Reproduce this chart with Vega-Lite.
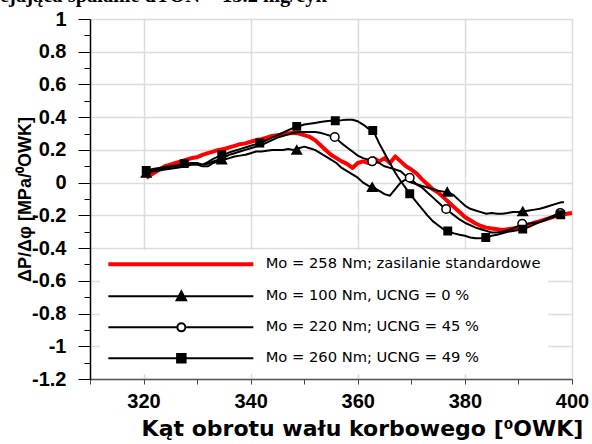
{
  "$schema": "https://vega.github.io/schema/vega-lite/v6.json",
  "autosize": {"type": "none"},
  "padding": {"left": 90, "top": 19, "right": 20, "bottom": 65},
  "width": 482,
  "height": 360,
  "background": "white",
  "title": {"text": "ejająca spalanie dTON = 13.2 mg/cyk", "anchor": "start", "frame": "group", "dx": -90, "dy": 16, "offset": 3, "baseline": "alphabetic", "font": "Liberation Serif", "fontSize": 20.5, "fontWeight": "bold", "color": "black"},
  "config": {
    "view": {"stroke": null},
    "axis": {"labelFont": "Liberation Sans", "labelFontSize": 20, "labelFontWeight": "bold", "labelColor": "black", "titleFont": "Liberation Sans", "titleFontWeight": "bold", "titleColor": "black", "gridColor": "#dcdcdc", "gridWidth": 1.5, "labelFlush": false, "labelOverlap": false}
  },
  "datasets": {
    "curves": [
      {"seria":"258","kat":320.5,"dp":0.03},{"seria":"258","kat":321,"dp":0.04},{"seria":"258","kat":322,"dp":0.06},{"seria":"258","kat":323,"dp":0.08},{"seria":"258","kat":324,"dp":0.10},{"seria":"258","kat":325,"dp":0.11},{"seria":"258","kat":326,"dp":0.12},{"seria":"258","kat":327,"dp":0.13},{"seria":"258","kat":328,"dp":0.14},{"seria":"258","kat":329,"dp":0.15},{"seria":"258","kat":330,"dp":0.155},{"seria":"258","kat":331,"dp":0.17},{"seria":"258","kat":332,"dp":0.18},{"seria":"258","kat":333,"dp":0.19},{"seria":"258","kat":334,"dp":0.20},{"seria":"258","kat":335,"dp":0.205},{"seria":"258","kat":336,"dp":0.215},{"seria":"258","kat":337,"dp":0.225},{"seria":"258","kat":338,"dp":0.235},{"seria":"258","kat":339,"dp":0.24},{"seria":"258","kat":340,"dp":0.25},{"seria":"258","kat":341,"dp":0.26},{"seria":"258","kat":342,"dp":0.265},{"seria":"258","kat":343,"dp":0.275},{"seria":"258","kat":344,"dp":0.285},{"seria":"258","kat":345,"dp":0.29},{"seria":"258","kat":346,"dp":0.295},{"seria":"258","kat":347,"dp":0.30},{"seria":"258","kat":348,"dp":0.305},{"seria":"258","kat":349,"dp":0.30},{"seria":"258","kat":350,"dp":0.29},{"seria":"258","kat":351,"dp":0.28},{"seria":"258","kat":352,"dp":0.26},{"seria":"258","kat":353,"dp":0.23},{"seria":"258","kat":354,"dp":0.20},{"seria":"258","kat":355,"dp":0.17},{"seria":"258","kat":356,"dp":0.15},{"seria":"258","kat":357,"dp":0.13},{"seria":"258","kat":358,"dp":0.115},{"seria":"258","kat":359,"dp":0.09},{"seria":"258","kat":360,"dp":0.12},{"seria":"258","kat":361,"dp":0.13},{"seria":"258","kat":362,"dp":0.12},{"seria":"258","kat":363,"dp":0.15},{"seria":"258","kat":364,"dp":0.13},{"seria":"258","kat":365,"dp":0.15},{"seria":"258","kat":366,"dp":0.12},{"seria":"258","kat":367,"dp":0.16},{"seria":"258","kat":368,"dp":0.13},{"seria":"258","kat":369,"dp":0.10},{"seria":"258","kat":370,"dp":0.08},{"seria":"258","kat":371,"dp":0.055},{"seria":"258","kat":372,"dp":0.02},{"seria":"258","kat":373,"dp":-0.01},{"seria":"258","kat":374,"dp":-0.04},{"seria":"258","kat":375,"dp":-0.06},{"seria":"258","kat":376,"dp":-0.09},{"seria":"258","kat":377,"dp":-0.12},{"seria":"258","kat":378,"dp":-0.15},{"seria":"258","kat":379,"dp":-0.18},{"seria":"258","kat":380,"dp":-0.21},{"seria":"258","kat":381,"dp":-0.23},{"seria":"258","kat":382,"dp":-0.25},{"seria":"258","kat":383,"dp":-0.265},{"seria":"258","kat":384,"dp":-0.275},{"seria":"258","kat":385,"dp":-0.28},{"seria":"258","kat":386,"dp":-0.285},{"seria":"258","kat":387,"dp":-0.29},{"seria":"258","kat":388,"dp":-0.285},{"seria":"258","kat":389,"dp":-0.28},{"seria":"258","kat":390,"dp":-0.275},{"seria":"258","kat":391,"dp":-0.265},{"seria":"258","kat":392,"dp":-0.255},{"seria":"258","kat":393,"dp":-0.245},{"seria":"258","kat":394,"dp":-0.235},{"seria":"258","kat":395,"dp":-0.225},{"seria":"258","kat":396,"dp":-0.215},{"seria":"258","kat":397,"dp":-0.205},{"seria":"258","kat":398,"dp":-0.195},{"seria":"258","kat":399,"dp":-0.19},{"seria":"258","kat":400,"dp":-0.185},

      {"seria":"100","kat":320.5,"dp":0.06},{"seria":"100","kat":322,"dp":0.07},{"seria":"100","kat":324,"dp":0.08},{"seria":"100","kat":326,"dp":0.09},{"seria":"100","kat":328,"dp":0.10},{"seria":"100","kat":329,"dp":0.11},{"seria":"100","kat":330,"dp":0.11},{"seria":"100","kat":331,"dp":0.10},{"seria":"100","kat":332,"dp":0.10},{"seria":"100","kat":333,"dp":0.12},{"seria":"100","kat":334,"dp":0.13},{"seria":"100","kat":335,"dp":0.14},{"seria":"100","kat":336,"dp":0.15},{"seria":"100","kat":337,"dp":0.16},{"seria":"100","kat":338,"dp":0.165},{"seria":"100","kat":339,"dp":0.17},{"seria":"100","kat":340,"dp":0.18},{"seria":"100","kat":341,"dp":0.19},{"seria":"100","kat":342,"dp":0.19},{"seria":"100","kat":343,"dp":0.195},{"seria":"100","kat":344,"dp":0.20},{"seria":"100","kat":345,"dp":0.20},{"seria":"100","kat":346,"dp":0.20},{"seria":"100","kat":347,"dp":0.205},{"seria":"100","kat":348,"dp":0.20},{"seria":"100","kat":349,"dp":0.21},{"seria":"100","kat":350,"dp":0.22},{"seria":"100","kat":351,"dp":0.21},{"seria":"100","kat":352,"dp":0.20},{"seria":"100","kat":353,"dp":0.18},{"seria":"100","kat":354,"dp":0.16},{"seria":"100","kat":355,"dp":0.14},{"seria":"100","kat":356,"dp":0.12},{"seria":"100","kat":357,"dp":0.09},{"seria":"100","kat":358,"dp":0.07},{"seria":"100","kat":359,"dp":0.05},{"seria":"100","kat":360,"dp":0.03},{"seria":"100","kat":361,"dp":0.0},{"seria":"100","kat":362,"dp":-0.02},{"seria":"100","kat":363,"dp":-0.03},{"seria":"100","kat":364,"dp":-0.05},{"seria":"100","kat":365,"dp":-0.07},{"seria":"100","kat":366,"dp":-0.08},{"seria":"100","kat":367,"dp":-0.04},{"seria":"100","kat":368,"dp":0.0},{"seria":"100","kat":369,"dp":0.02},{"seria":"100","kat":370,"dp":0.0},{"seria":"100","kat":371,"dp":-0.01},{"seria":"100","kat":372,"dp":-0.02},{"seria":"100","kat":373,"dp":-0.03},{"seria":"100","kat":374,"dp":-0.04},{"seria":"100","kat":375,"dp":-0.05},{"seria":"100","kat":376,"dp":-0.055},{"seria":"100","kat":377,"dp":-0.06},{"seria":"100","kat":378,"dp":-0.08},{"seria":"100","kat":379,"dp":-0.11},{"seria":"100","kat":380,"dp":-0.14},{"seria":"100","kat":381,"dp":-0.16},{"seria":"100","kat":382,"dp":-0.17},{"seria":"100","kat":383,"dp":-0.18},{"seria":"100","kat":384,"dp":-0.19},{"seria":"100","kat":385,"dp":-0.185},{"seria":"100","kat":386,"dp":-0.19},{"seria":"100","kat":387,"dp":-0.19},{"seria":"100","kat":388,"dp":-0.185},{"seria":"100","kat":389,"dp":-0.18},{"seria":"100","kat":390,"dp":-0.18},{"seria":"100","kat":391,"dp":-0.175},{"seria":"100","kat":392,"dp":-0.17},{"seria":"100","kat":393,"dp":-0.165},{"seria":"100","kat":394,"dp":-0.16},{"seria":"100","kat":395,"dp":-0.15},{"seria":"100","kat":396,"dp":-0.14},{"seria":"100","kat":397,"dp":-0.13},{"seria":"100","kat":398,"dp":-0.12},{"seria":"100","kat":398.5,"dp":-0.12},

      {"seria":"220","kat":320.5,"dp":0.065},{"seria":"220","kat":322,"dp":0.08},{"seria":"220","kat":324,"dp":0.09},{"seria":"220","kat":326,"dp":0.10},{"seria":"220","kat":328,"dp":0.11},{"seria":"220","kat":329,"dp":0.12},{"seria":"220","kat":330,"dp":0.12},{"seria":"220","kat":331,"dp":0.11},{"seria":"220","kat":332,"dp":0.115},{"seria":"220","kat":333,"dp":0.13},{"seria":"220","kat":334,"dp":0.14},{"seria":"220","kat":335,"dp":0.155},{"seria":"220","kat":336,"dp":0.17},{"seria":"220","kat":337,"dp":0.18},{"seria":"220","kat":338,"dp":0.19},{"seria":"220","kat":339,"dp":0.20},{"seria":"220","kat":340,"dp":0.21},{"seria":"220","kat":341,"dp":0.22},{"seria":"220","kat":342,"dp":0.23},{"seria":"220","kat":343,"dp":0.245},{"seria":"220","kat":344,"dp":0.26},{"seria":"220","kat":345,"dp":0.275},{"seria":"220","kat":346,"dp":0.285},{"seria":"220","kat":347,"dp":0.295},{"seria":"220","kat":348,"dp":0.305},{"seria":"220","kat":349,"dp":0.31},{"seria":"220","kat":350,"dp":0.31},{"seria":"220","kat":351,"dp":0.31},{"seria":"220","kat":352,"dp":0.31},{"seria":"220","kat":353,"dp":0.305},{"seria":"220","kat":354,"dp":0.295},{"seria":"220","kat":355,"dp":0.285},{"seria":"220","kat":356,"dp":0.27},{"seria":"220","kat":357,"dp":0.24},{"seria":"220","kat":358,"dp":0.215},{"seria":"220","kat":359,"dp":0.19},{"seria":"220","kat":360,"dp":0.165},{"seria":"220","kat":361,"dp":0.15},{"seria":"220","kat":362,"dp":0.14},{"seria":"220","kat":363,"dp":0.13},{"seria":"220","kat":364,"dp":0.12},{"seria":"220","kat":365,"dp":0.10},{"seria":"220","kat":366,"dp":0.09},{"seria":"220","kat":367,"dp":0.08},{"seria":"220","kat":368,"dp":0.07},{"seria":"220","kat":369,"dp":0.04},{"seria":"220","kat":370,"dp":0.02},{"seria":"220","kat":371,"dp":-0.01},{"seria":"220","kat":372,"dp":-0.03},{"seria":"220","kat":373,"dp":-0.06},{"seria":"220","kat":374,"dp":-0.09},{"seria":"220","kat":375,"dp":-0.12},{"seria":"220","kat":376,"dp":-0.15},{"seria":"220","kat":377,"dp":-0.175},{"seria":"220","kat":378,"dp":-0.20},{"seria":"220","kat":379,"dp":-0.225},{"seria":"220","kat":380,"dp":-0.245},{"seria":"220","kat":381,"dp":-0.26},{"seria":"220","kat":382,"dp":-0.275},{"seria":"220","kat":383,"dp":-0.285},{"seria":"220","kat":384,"dp":-0.295},{"seria":"220","kat":385,"dp":-0.305},{"seria":"220","kat":386,"dp":-0.305},{"seria":"220","kat":387,"dp":-0.30},{"seria":"220","kat":388,"dp":-0.29},{"seria":"220","kat":389,"dp":-0.28},{"seria":"220","kat":390,"dp":-0.265},{"seria":"220","kat":391,"dp":-0.255},{"seria":"220","kat":392,"dp":-0.25},{"seria":"220","kat":393,"dp":-0.245},{"seria":"220","kat":394,"dp":-0.24},{"seria":"220","kat":395,"dp":-0.225},{"seria":"220","kat":396,"dp":-0.21},{"seria":"220","kat":397,"dp":-0.195},{"seria":"220","kat":398,"dp":-0.185},{"seria":"220","kat":398.5,"dp":-0.18},

      {"seria":"260","kat":320.5,"dp":0.075},{"seria":"260","kat":322,"dp":0.085},{"seria":"260","kat":324,"dp":0.095},{"seria":"260","kat":326,"dp":0.105},{"seria":"260","kat":328,"dp":0.115},{"seria":"260","kat":329,"dp":0.12},{"seria":"260","kat":330,"dp":0.115},{"seria":"260","kat":331,"dp":0.11},{"seria":"260","kat":332,"dp":0.125},{"seria":"260","kat":333,"dp":0.145},{"seria":"260","kat":334,"dp":0.16},{"seria":"260","kat":335,"dp":0.17},{"seria":"260","kat":336,"dp":0.185},{"seria":"260","kat":337,"dp":0.195},{"seria":"260","kat":338,"dp":0.205},{"seria":"260","kat":339,"dp":0.215},{"seria":"260","kat":340,"dp":0.225},{"seria":"260","kat":341,"dp":0.235},{"seria":"260","kat":342,"dp":0.245},{"seria":"260","kat":343,"dp":0.26},{"seria":"260","kat":344,"dp":0.275},{"seria":"260","kat":345,"dp":0.29},{"seria":"260","kat":346,"dp":0.305},{"seria":"260","kat":347,"dp":0.32},{"seria":"260","kat":348,"dp":0.335},{"seria":"260","kat":349,"dp":0.345},{"seria":"260","kat":350,"dp":0.355},{"seria":"260","kat":351,"dp":0.36},{"seria":"260","kat":352,"dp":0.365},{"seria":"260","kat":353,"dp":0.37},{"seria":"260","kat":354,"dp":0.375},{"seria":"260","kat":355,"dp":0.378},{"seria":"260","kat":356,"dp":0.38},{"seria":"260","kat":357,"dp":0.382},{"seria":"260","kat":358,"dp":0.385},{"seria":"260","kat":359,"dp":0.384},{"seria":"260","kat":360,"dp":0.375},{"seria":"260","kat":361,"dp":0.355},{"seria":"260","kat":362,"dp":0.33},{"seria":"260","kat":363,"dp":0.31},{"seria":"260","kat":364,"dp":0.24},{"seria":"260","kat":365,"dp":0.18},{"seria":"260","kat":366,"dp":0.12},{"seria":"260","kat":367,"dp":0.06},{"seria":"260","kat":368,"dp":0.01},{"seria":"260","kat":369,"dp":-0.035},{"seria":"260","kat":370,"dp":-0.08},{"seria":"260","kat":371,"dp":-0.12},{"seria":"260","kat":372,"dp":-0.16},{"seria":"260","kat":373,"dp":-0.20},{"seria":"260","kat":374,"dp":-0.235},{"seria":"260","kat":375,"dp":-0.26},{"seria":"260","kat":376,"dp":-0.285},{"seria":"260","kat":377,"dp":-0.30},{"seria":"260","kat":378,"dp":-0.31},{"seria":"260","kat":379,"dp":-0.318},{"seria":"260","kat":380,"dp":-0.325},{"seria":"260","kat":381,"dp":-0.335},{"seria":"260","kat":382,"dp":-0.34},{"seria":"260","kat":383,"dp":-0.34},{"seria":"260","kat":384,"dp":-0.335},{"seria":"260","kat":385,"dp":-0.325},{"seria":"260","kat":386,"dp":-0.318},{"seria":"260","kat":387,"dp":-0.31},{"seria":"260","kat":388,"dp":-0.30},{"seria":"260","kat":389,"dp":-0.295},{"seria":"260","kat":390,"dp":-0.29},{"seria":"260","kat":391,"dp":-0.283},{"seria":"260","kat":392,"dp":-0.27},{"seria":"260","kat":393,"dp":-0.255},{"seria":"260","kat":394,"dp":-0.24},{"seria":"260","kat":395,"dp":-0.23},{"seria":"260","kat":396,"dp":-0.215},{"seria":"260","kat":397,"dp":-0.205},{"seria":"260","kat":398,"dp":-0.195},{"seria":"260","kat":398.5,"dp":-0.19}
    ],
    "markers": [
      {"seria":"100","kat":320.5,"dp":0.06},{"seria":"100","kat":334.6,"dp":0.14},{"seria":"100","kat":348.6,"dp":0.20},{"seria":"100","kat":362.7,"dp":-0.027},{"seria":"100","kat":376.7,"dp":-0.057},{"seria":"100","kat":390.8,"dp":-0.176},
      {"seria":"220","kat":355.7,"dp":0.279},{"seria":"220","kat":362.7,"dp":0.13},{"seria":"220","kat":369.7,"dp":0.03},{"seria":"220","kat":376.5,"dp":-0.161},{"seria":"220","kat":390.7,"dp":-0.251},{"seria":"220","kat":397.8,"dp":-0.185},
      {"seria":"260","kat":320.5,"dp":0.075},{"seria":"260","kat":327.6,"dp":0.116},{"seria":"260","kat":334.6,"dp":0.17},{"seria":"260","kat":341.7,"dp":0.242},{"seria":"260","kat":348.6,"dp":0.344},{"seria":"260","kat":355.8,"dp":0.378},{"seria":"260","kat":362.8,"dp":0.319},{"seria":"260","kat":369.7,"dp":-0.068},{"seria":"260","kat":376.8,"dp":-0.296},{"seria":"260","kat":383.9,"dp":-0.335},{"seria":"260","kat":390.8,"dp":-0.284},{"seria":"260","kat":397.9,"dp":-0.196}
    ]
  },
  "encoding": {
    "x": {"field": "kat", "type": "quantitative", "scale": {"domain": [310, 400], "nice": false, "zero": false},
      "axis": {"values": [310,320,330,340,350,360,370,380,390,400], "labelExpr": "datum.value % 20 == 0 ? datum.label : ''", "gridOpacity": {"condition": {"test": "datum.value % 20 == 0", "value": 1}, "value": 0}, "tickSize": 5, "tickColor": "#444", "domainColor": "#555", "domainWidth": 1.5, "labelPadding": 7, "title": "Kąt obrotu wału korbowego [⁰OWK]", "titleFont": "DejaVu Sans", "titleFontSize": 22, "titleX": 272, "titleY": 56, "titleBaseline": "alphabetic", "titleAnchor": "middle"}},
    "y": {"field": "dp", "type": "quantitative", "scale": {"domain": [-1.2, 1], "nice": false, "zero": false},
      "axis": {"values": [-1.2,-1.1,-1,-0.9,-0.8,-0.7,-0.6,-0.5,-0.4,-0.3,-0.2,-0.1,0,0.1,0.2,0.3,0.4,0.5,0.6,0.7,0.8,0.9,1], "labelExpr": "abs(round(datum.value*10)) % 2 == 0 ? replace(format(datum.value, '~g'), '−', '-') : ''", "gridOpacity": {"condition": {"test": "abs(round(datum.value*10)) % 2 == 0", "value": 1}, "value": 0}, "tickSize": {"condition": {"test": "abs(round(datum.value*10)) % 2 == 0", "value": 12}, "value": 6}, "tickColor": "black", "domainColor": "black", "domainWidth": 1.5, "labelPadding": 12, "title": "ΔP/Δφ [MPa/⁰OWK]", "titleFontSize": 18, "titleX": -60, "titleBaseline": "alphabetic"}}
  },
  "layer": [
    {
      "mark": {"type": "line", "strokeWidth": 4, "strokeJoin": "round"},
      "data": {"name": "curves"},
      "transform": [{"filter": "datum.seria == '258'"}],
      "encoding": {
        "color": {"field": "seria", "type": "nominal", "scale": {"domain": ["258", "100", "220", "260"], "range": ["#ff0000", "black", "black", "black"]},
          "legend": {"orient": "none", "legendX": 10, "legendY": 231, "title": null, "fillColor": "white", "padding": 7, "rowPadding": 14, "symbolSize": 100, "symbolOffset": 67, "labelOffset": 77, "labelLimit": 0, "labelFont": "DejaVu Sans", "labelFontSize": 14.7, "labelColor": "black", "symbolType": "circle",
            "labelExpr": "datum.value == '258' ? 'Mo = 258 Nm; zasilanie standardowe' : datum.value == '100' ? 'Mo = 100 Nm, UCNG = 0 %' : datum.value == '220' ? 'Mo = 220 Nm; UCNG = 45 %' : 'Mo = 260 Nm; UCNG = 49 %'",
            "encode": {"symbols": {"update": {
              "shape": {"signal": "datum.value == '258' ? 'M-14.6,0H14.4' : datum.value == '100' ? 'M-14.6,0H14.4M0,-1L0.95,0.8L-0.95,0.8Z' : datum.value == '220' ? 'M-14.6,0H-0.8M0.8,0H14.4M-0.8,0A0.8,0.8 0 1,0 0.8,0A0.8,0.8 0 1,0 -0.8,0Z' : 'M-14.6,0H14.4M-0.85,-0.85H0.85V0.85H-0.85Z'"},
              "fill": {"signal": "datum.value == '220' ? 'white' : datum.value == '258' ? 'transparent' : 'black'"},
              "stroke": {"signal": "datum.value == '258' ? '#ff0000' : 'black'"},
              "strokeWidth": {"signal": "datum.value == '258' ? 4 : 2"},
              "opacity": {"value": 1}
            }}}
          }}
      }
    },
    {
      "mark": {"type": "line", "strokeWidth": 2, "strokeJoin": "round"},
      "data": {"name": "curves"},
      "transform": [{"filter": "datum.seria != '258'"}],
      "encoding": {
        "color": {"field": "seria", "type": "nominal"}
      }
    },
    {
      "mark": {"type": "point", "filled": false, "stroke": "black", "strokeWidth": 1.5, "opacity": 1},
      "data": {"name": "markers"},
      "encoding": {
        "shape": {"field": "seria", "type": "nominal", "scale": {"domain": ["100", "220", "260"], "range": ["triangle-up", "circle", "square"]}, "legend": null},
        "fill": {"field": "seria", "type": "nominal", "scale": {"domain": ["100", "220", "260"], "range": ["black", "white", "black"]}, "legend": null},
        "size": {"field": "seria", "type": "nominal", "scale": {"domain": ["100", "220", "260"], "range": [90, 55, 120]}, "legend": null}
      }
    }
  ]
}
